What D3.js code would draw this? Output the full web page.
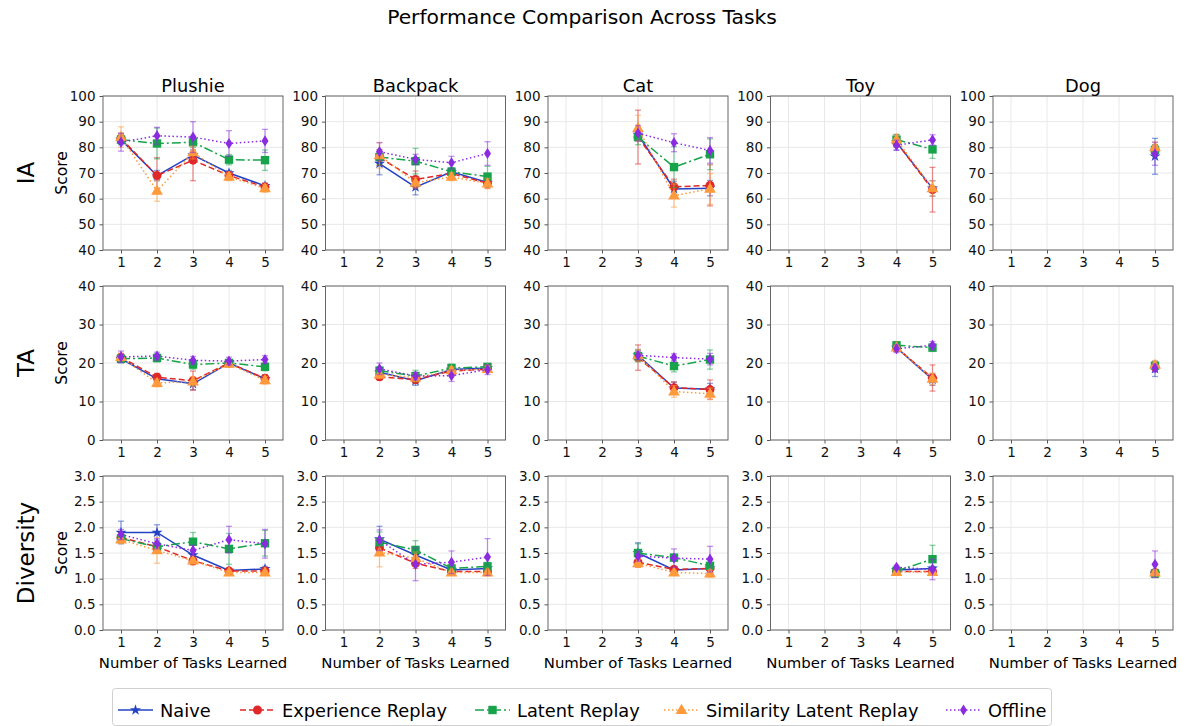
<!DOCTYPE html>
<html><head><meta charset="utf-8">
<script src="https://cdn.jsdelivr.net/npm/d3@7"></script>
<style>body{margin:0;background:#fff}svg{font-family:"DejaVu Sans",sans-serif}</style>
</head><body><svg id="c" width="1185" height="726"></svg>
<script>
const _ = null;
const tasks = ["Plushie","Backpack","Cat","Toy","Dog"];
const xTicks = [1,2,3,4,5];
const metrics = ["IA","TA","Diversity"];
const seriesNames = ["Naive","Experience Replay","Latent Replay","Similarity Latent Replay","Offline"];
const iaTicks = [40,50,60,70,80,90,100];
const taTicks = [0,10,20,30,40];
const dvTicks = [0,0.5,1,1.5,2,2.5,3];

// IA means [task][step]
const iaNaive = [[83,69,77,70,65],[_,73.7,64.5,70.5,66.3],[_,_,85,63.8,64.1],[_,_,_,82,64],[_,_,_,_,76.5]];
const iaER    = [[83.5,69,75,69,64.5],[_,76,67.5,69.8,66],[_,_,84,64.6,65.2],[_,_,_,82,63.5],[_,_,_,_,79]];
const iaLR    = [[83,81.5,82,75.2,75],[_,76.2,74.6,70.5,68.6],[_,_,84,72.3,77.3],[_,_,_,83,79.2],[_,_,_,_,79]];
const iaSLR   = [[84,63,78,68.5,64],[_,76.9,66.2,68.5,65.9],[_,_,87.5,61.2,63.8],[_,_,_,83,64],[_,_,_,_,80]];
const iaOff   = [[82,84.5,84,81.5,82.5],[_,78.3,75.3,74,77.6],[_,_,85.5,81.8,78.8],[_,_,_,80.8,82.9],[_,_,_,_,77.5]];
const iaNaiveErr = [[1.5,2,2,1,1],[_,4.4,3,1.5,1.5],[_,_,2,3,3],[_,_,_,3,3],[_,_,_,_,7]];
const iaERErr    = [[2,7,8,1.5,1.5],[_,3,3.3,1.5,2],[_,_,10.5,3,8],[_,_,_,2,8.7],[_,_,_,_,2]];
const iaLRErr    = [[2,6,2,2,4],[_,3,5,1.5,4],[_,_,3,8,6],[_,_,_,2,3.5],[_,_,_,_,2]];
const iaSLRErr   = [[4,4,2.5,1.5,1.5],[_,5,2,1.5,2],[_,_,5,4.5,6],[_,_,_,2,3],[_,_,_,_,2]];
const iaOffErr   = [[3.5,3.3,6,5,4.5],[_,3.5,2,2.5,4.6],[_,_,3,3.5,5],[_,_,_,2,2],[_,_,_,_,4.5]];

// TA means
const taNaive = [[21.1,15.9,14.6,20,15.9],[_,17.6,15.4,18.3,18.7],[_,_,22,13.5,13.2],[_,_,_,24,15.7],[_,_,_,_,18.5]];
const taER    = [[21.5,16.3,15.4,20,16],[_,16.4,15.7,17.9,18.4],[_,_,21.4,13.6,13.1],[_,_,_,24,16.1],[_,_,_,_,19]];
const taLR    = [[21.1,21.3,19.6,20,19],[_,18,16.6,18.7,19],[_,_,21.8,19.2,20.9],[_,_,_,24.6,24],[_,_,_,_,19.3]];
const taSLR   = [[21.5,14.8,15.2,19.8,15.5],[_,17,16.2,18.1,18.4],[_,_,22,12.6,12],[_,_,_,24,15.9],[_,_,_,_,19.5]];
const taOff   = [[21.6,21.8,20.7,20.5,20.9],[_,18.5,16.6,16.7,18.3],[_,_,22,21.4,21],[_,_,_,23.7,24.6],[_,_,_,_,18.7]];
const taNaiveErr = [[1,1,1.5,0.8,1],[_,1,1.2,0.8,0.8],[_,_,1.5,1.5,1.5],[_,_,_,0.8,1.5],[_,_,_,_,2]];
const taERErr    = [[1,1,2.5,0.8,1],[_,0.8,1,0.8,0.8],[_,_,3.3,1.5,2.5],[_,_,_,0.8,3.4],[_,_,_,_,1]];
const taLRErr    = [[1,1,1.2,0.8,1],[_,1,1.5,1,0.8],[_,_,1.5,1.5,2.5],[_,_,_,0.6,1],[_,_,_,_,1]];
const taSLRErr   = [[1,1,1.2,0.8,1],[_,1,1,0.8,0.8],[_,_,1.5,1.5,1.5],[_,_,_,0.6,1.5],[_,_,_,_,1]];
const taOffErr   = [[1.5,1,1,1,1],[_,1.5,1,1.5,1.3],[_,_,1,1,1.5],[_,_,_,1,1],[_,_,_,_,1]];

// Diversity means
const dvNaive = [[1.9,1.9,1.46,1.16,1.19],[_,1.77,1.46,1.17,1.2],[_,_,1.5,1.17,1.2],[_,_,_,1.17,1.2],[_,_,_,_,1.1]];
const dvER    = [[1.8,1.62,1.35,1.15,1.15],[_,1.6,1.3,1.14,1.14],[_,_,1.32,1.18,1.2],[_,_,_,1.14,1.14],[_,_,_,_,1.12]];
const dvLR    = [[1.78,1.62,1.72,1.58,1.69],[_,1.71,1.56,1.2,1.24],[_,_,1.5,1.41,1.25],[_,_,_,1.15,1.38],[_,_,_,_,1.1]];
const dvSLR   = [[1.76,1.55,1.35,1.12,1.12],[_,1.51,1.4,1.12,1.12],[_,_,1.3,1.12,1.1],[_,_,_,1.13,1.13],[_,_,_,_,1.12]];
const dvOff   = [[1.86,1.68,1.55,1.76,1.68],[_,1.75,1.28,1.32,1.42],[_,_,1.44,1.4,1.38],[_,_,_,1.22,1.18],[_,_,_,_,1.28]];
const dvNaiveErr = [[0.22,0.15,0.08,0.03,0.05],[_,0.25,0.05,0.04,0.05],[_,_,0.2,0.04,0.05],[_,_,_,0.04,0.04],[_,_,_,_,0.04]];
const dvERErr    = [[0.1,0.1,0.08,0.04,0.04],[_,0.08,0.1,0.04,0.04],[_,_,0.1,0.06,0.05],[_,_,_,0.03,0.04],[_,_,_,_,0.04]];
const dvLRErr    = [[0.08,0.08,0.18,0.3,0.25],[_,0.2,0.18,0.05,0.08],[_,_,0.18,0.06,0.06],[_,_,_,0.03,0.27],[_,_,_,_,0.04]];
const dvSLRErr   = [[0.08,0.25,0.05,0.04,0.04],[_,0.28,0.12,0.03,0.04],[_,_,0.08,0.04,0.07],[_,_,_,0.03,0.03],[_,_,_,_,0.04]];
const dvOffErr   = [[0.1,0.1,0.1,0.26,0.28],[_,0.2,0.32,0.22,0.36],[_,_,0.1,0.18,0.25],[_,_,_,0.04,0.2],[_,_,_,_,0.26]];

const means = [[iaNaive,iaER,iaLR,iaSLR,iaOff],[taNaive,taER,taLR,taSLR,taOff],[dvNaive,dvER,dvLR,dvSLR,dvOff]];
const errs  = [[iaNaiveErr,iaERErr,iaLRErr,iaSLRErr,iaOffErr],[taNaiveErr,taERErr,taLRErr,taSLRErr,taOffErr],[dvNaiveErr,dvERErr,dvLRErr,dvSLRErr,dvOffErr]];
const yTicksAll = [iaTicks, taTicks, dvTicks];

const colors = ["#2443c4","#e02828","#17a34a","#ff9a3c","#8a2be2"];
const dashes = [null,"6,3","9,3,2,3","1.5,2.5","1.5,2.5"];

const svg = d3.select("#c");
const pw = 180, ph = 154;
const colLeft = c => 103 + c*222.5;
const rowTop = r => 96 + r*190;

function marker(g, type, x, y, col) {
  if (type === 0) {
    g.append("path").attr("d", d3.symbol(d3.symbolStar, 38)()).attr("transform",`translate(${x},${y})`).attr("fill",col);
  } else if (type === 1) {
    g.append("circle").attr("cx",x).attr("cy",y).attr("r",4.5).attr("fill",col);
  } else if (type === 2) {
    g.append("rect").attr("x",x-4.2).attr("y",y-4.2).attr("width",8.4).attr("height",8.4).attr("fill",col);
  } else if (type === 3) {
    g.append("path").attr("d", d3.symbol(d3.symbolTriangle, 60)()).attr("transform",`translate(${x},${y+0.5})`).attr("fill",col);
  } else {
    g.append("path").attr("d", `M0,-5.6L3.5,0L0,5.6L-3.5,0Z`).attr("transform",`translate(${x},${y})`).attr("fill",col);
  }
}

svg.append("text").attr("x",582).attr("y",24).attr("text-anchor","middle").attr("font-size",20.3).text("Performance Comparison Across Tasks");

for (let r = 0; r < 3; r++) {
  const yt = yTicksAll[r];
  const y = d3.scaleLinear().domain([yt[0], yt[yt.length-1]]).range([rowTop(r)+ph, rowTop(r)]);
  svg.append("text").attr("transform",`translate(34,${rowTop(r)+ph/2}) rotate(-90)`).attr("text-anchor","middle").attr("font-size",23).text(metrics[r]);
  svg.append("text").attr("transform",`translate(67,${rowTop(r)+ph/2}) rotate(-90)`).attr("text-anchor","middle").attr("font-size",15.5).text("Score");
  for (let c = 0; c < 5; c++) {
    const x = d3.scaleLinear().domain([0.5,5.5]).range([colLeft(c), colLeft(c)+pw]);
    const g = svg.append("g");
    g.selectAll(".gy").data(yt).join("line").attr("x1",x.range()[0]).attr("x2",x.range()[1]).attr("y1",d=>y(d)).attr("y2",d=>y(d)).attr("stroke","#e8e8e8").attr("stroke-width",1);
    g.selectAll(".gx").data(xTicks).join("line").attr("x1",d=>x(d)).attr("x2",d=>x(d)).attr("y1",y.range()[0]).attr("y2",y.range()[1]).attr("stroke","#e8e8e8").attr("stroke-width",1);
    const ax = g.append("g").attr("transform",`translate(0,${rowTop(r)+ph})`).call(d3.axisBottom(x).tickValues(xTicks).tickFormat(d3.format("d")).tickSize(3.5).tickPadding(4));
    const ay = g.append("g").attr("transform",`translate(${colLeft(c)},0)`).call(d3.axisLeft(y).tickValues(yt).tickFormat(r===2 ? d3.format(".1f") : d3.format("d")).tickSize(3.5).tickPadding(4));
    [ax, ay].forEach(a => {
      a.select(".domain").remove();
      a.selectAll("text").attr("font-size",13.5).attr("fill","#111").attr("font-family","DejaVu Sans");
      a.selectAll("line").attr("stroke","#555");
    });
    g.append("rect").attr("x",colLeft(c)).attr("y",rowTop(r)).attr("width",pw).attr("height",ph).attr("fill","none").attr("stroke","#666").attr("stroke-width",1);
    if (r === 0) svg.append("text").attr("x",colLeft(c)+pw/2).attr("y",rowTop(r)-4).attr("text-anchor","middle").attr("font-size",17.8).text(tasks[c]);
    if (r === 2) svg.append("text").attr("x",colLeft(c)+pw/2).attr("y",668).attr("text-anchor","middle").attr("font-size",14.9).text("Number of Tasks Learned");
    const clip = g.append("g");
    for (let s = 0; s < 5; s++) {
      const m = means[r][s][c], e = errs[r][s][c];
      const pts = xTicks.map((t,i)=>({t, v:m[i], e:e[i]})).filter(p=>p.v!==null);
      const col = colors[s];
      const sg = clip.append("g");
      pts.forEach(p => {
        const eg = sg.append("g").attr("stroke",col).attr("stroke-opacity",0.5).attr("stroke-width",1.3);
        eg.append("line").attr("x1",x(p.t)).attr("x2",x(p.t)).attr("y1",y(p.v-p.e)).attr("y2",y(p.v+p.e));
        eg.append("line").attr("x1",x(p.t)-3).attr("x2",x(p.t)+3).attr("y1",y(p.v-p.e)).attr("y2",y(p.v-p.e));
        eg.append("line").attr("x1",x(p.t)-3).attr("x2",x(p.t)+3).attr("y1",y(p.v+p.e)).attr("y2",y(p.v+p.e));
      });
      const line = d3.line().x(p=>x(p.t)).y(p=>y(p.v));
      sg.append("path").attr("d",line(pts)).attr("fill","none").attr("stroke",col).attr("stroke-width",1.5).attr("stroke-dasharray",dashes[s]);
      pts.forEach(p => marker(sg, s, x(p.t), y(p.v), col));
    }
  }
}

const lg = svg.append("g");
lg.append("rect").attr("x",112.5).attr("y",688.5).attr("width",939).attr("height",37).attr("rx",3).attr("fill","#fff").attr("stroke","#d0d0d0");
const legX = [118, 240, 475, 664, 946];
seriesNames.forEach((n,s) => {
  const x0 = legX[s], yy = 710;
  lg.append("line").attr("x1",x0).attr("x2",x0+35).attr("y1",yy).attr("y2",yy).attr("stroke",colors[s]).attr("stroke-width",1.5).attr("stroke-dasharray",dashes[s]);
  marker(lg, s, x0+17.5, yy, colors[s]);
  lg.append("text").attr("x",x0+42).attr("y",yy+6.5).attr("font-size",17.8).text(n);
});
</script></body></html>
